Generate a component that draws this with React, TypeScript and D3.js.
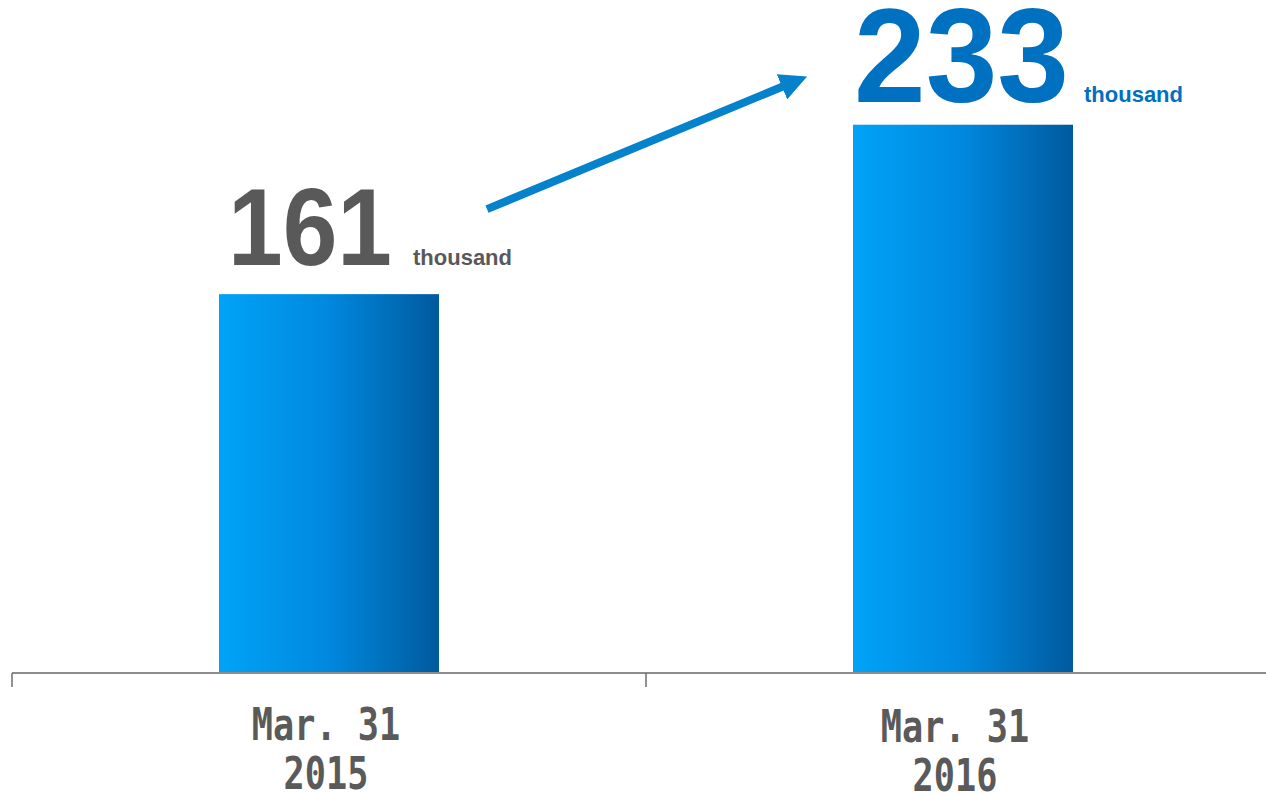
import { useEffect, useRef } from "react"
import * as d3 from "d3"

const categories = ["Mar. 31\n2015", "Mar. 31\n2016"]
const values = [161, 233]
const valueLabels = ["161", "233"]
const unitLabel = "thousand"

const WIDTH = 1266
const HEIGHT = 794
const BASE_Y = 673
const GRAY = "#595959"
const BLUE = "#0070c0"

export default function App() {
  const svgRef = useRef<SVGSVGElement>(null)

  useEffect(() => {
    if (!svgRef.current) return
    const svg = d3.select(svgRef.current)
    svg.selectAll("*").remove()

    const x = d3.scaleBand<string>().domain(categories).range([12, 1280]).paddingInner(0).paddingOuter(0)
    const y = d3.scaleLinear().domain([0, 286]).range([BASE_Y, 0])
    const barW = 220

    const defs = svg.append("defs")
    const grad = defs.append("linearGradient").attr("id", "barGrad").attr("x1", "0%").attr("x2", "100%").attr("y1", "0%").attr("y2", "0%")
    grad.append("stop").attr("offset", "0%").attr("stop-color", "#00a3f8")
    grad.append("stop").attr("offset", "50%").attr("stop-color", "#0088de")
    grad.append("stop").attr("offset", "100%").attr("stop-color", "#005a9e")

    const marker = defs.append("marker")
      .attr("id", "arrowHead")
      .attr("viewBox", "0 0 10 10")
      .attr("refX", 2)
      .attr("refY", 5)
      .attr("markerWidth", 3.4)
      .attr("markerHeight", 3.4)
      .attr("orient", "auto")
      .attr("markerUnits", "strokeWidth")
    marker.append("path").attr("d", "M0,0 L10,5 L0,10 Z").attr("fill", "#0482cc")

    const cx = (c: string) => (x(c) as number) + x.bandwidth() / 2

    // bars
    svg.selectAll("rect.bar")
      .data(values)
      .join("rect")
      .attr("class", "bar")
      .attr("x", (_, i) => cx(categories[i]) - barW / 2)
      .attr("width", barW)
      .attr("y", (d) => y(d))
      .attr("height", (d) => BASE_Y - y(d))
      .attr("fill", "url(#barGrad)")

    // axis
    svg.append("line")
      .attr("x1", 12).attr("x2", WIDTH).attr("y1", BASE_Y).attr("y2", BASE_Y)
      .attr("stroke", "#8c8c8c").attr("stroke-width", 2)
    categories.forEach((c) => {
      const tx = x(c) as number
      svg.append("line")
        .attr("x1", tx).attr("x2", tx).attr("y1", BASE_Y).attr("y2", BASE_Y + 14)
        .attr("stroke", "#6e6e6e").attr("stroke-width", 1.5)
    })

    // category labels
    categories.forEach((c, i) => {
      const lines = c.split("\n")
      lines.forEach((ln, j) => {
        svg.append("text")
          .attr("x", cx(c) - 3 - i * 5)
          .attr("y", 740 + j * 49 + i * 2)
          .attr("text-anchor", "middle")
          .attr("font-family", "'DejaVu Sans Mono', monospace")
          .attr("font-weight", "bold")
          .attr("font-size", 44)
          .attr("fill", "#5a5a5a")
          .attr("textLength", ln.length * 21.2)
          .attr("lengthAdjust", "spacingAndGlyphs")
          .text(ln)
      })
    })

    // value labels
    const sizes = [110, 133]
    const lens = [164, 215]
    const colors = [GRAY, BLUE]
    const unitDx = [194, 231]
    values.forEach((v, i) => {
      const bx = cx(categories[i]) - barW / 2
      const by = y(v) - (i === 0 ? 29 : 23)
      svg.append("text")
        .attr("x", bx + (i === 0 ? 9 : 1))
        .attr("y", by)
        .attr("font-family", "'Liberation Sans', Arial, sans-serif")
        .attr("font-weight", "bold")
        .attr("font-size", sizes[i])
        .attr("textLength", lens[i])
        .attr("lengthAdjust", "spacingAndGlyphs")
        .attr("fill", colors[i])
        .text(valueLabels[i])
      svg.append("text")
        .attr("x", bx + unitDx[i])
        .attr("y", by)
        .attr("font-family", "'Liberation Sans', Arial, sans-serif")
        .attr("font-weight", "bold")
        .attr("font-size", 22)
        .attr("fill", colors[i])
        .text(unitLabel)
    })

    // growth arrow
    const p0 = y(values[0]) - 85
    const p1 = y(values[1]) - 47
    svg.append("line")
      .attr("x1", 487).attr("y1", p0)
      .attr("x2", 787).attr("y2", p1 + 7)
      .attr("stroke", "#0482cc")
      .attr("stroke-width", 8)
      .attr("marker-end", "url(#arrowHead)")
  }, [])

  return (
    <svg
      ref={svgRef}
      width={WIDTH}
      height={HEIGHT}
      style={{ position: "absolute", left: 0, top: 0, background: "#fff" }}
    />
  )
}
